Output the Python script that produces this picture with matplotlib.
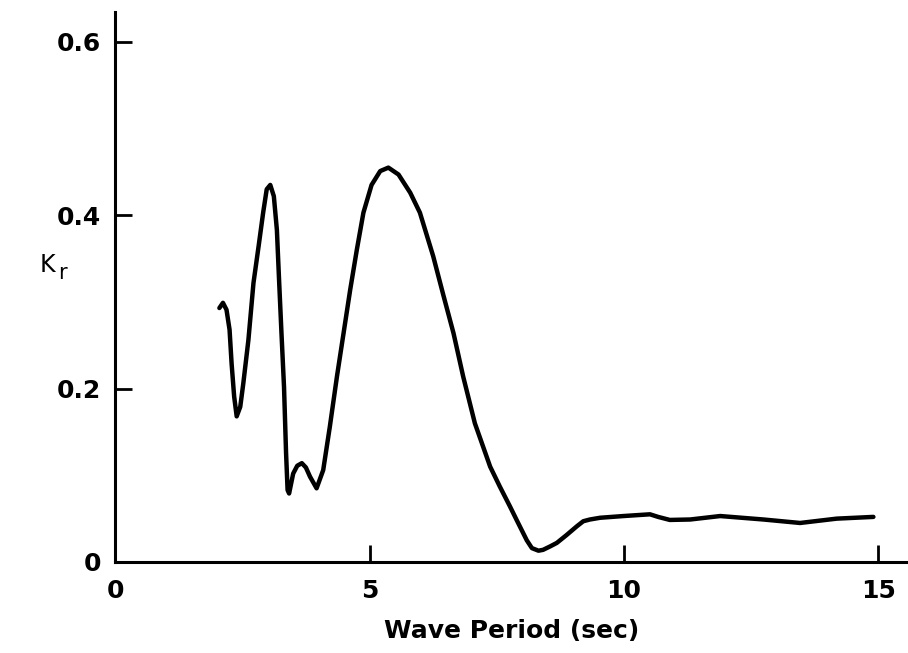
import matplotlib
matplotlib.use("Agg")
import matplotlib.pyplot as plt

# wave period (sec) and reflection coefficient Kr
period = [2.05, 2.12, 2.19, 2.25, 2.29, 2.34, 2.39, 2.46, 2.52, 2.62, 2.72,
          2.82, 2.91, 2.98, 3.05, 3.12, 3.18, 3.22, 3.27, 3.32, 3.36, 3.39,
          3.42, 3.50, 3.58, 3.67, 3.75, 3.83, 3.96, 4.09, 4.22, 4.36, 4.49,
          4.62, 4.75, 4.88, 5.04, 5.21, 5.37, 5.57, 5.80, 5.99, 6.25,
          6.45, 6.65, 6.84, 7.07, 7.37, 7.56, 7.76, 7.89, 8.09, 8.19,
          8.32, 8.41, 8.55, 8.68, 8.87, 9.07, 9.20, 9.33, 9.53, 9.99, 10.51,
          10.67, 10.90, 11.30, 11.89, 12.74, 13.46, 14.18, 14.90]
kr = [0.293, 0.299, 0.291, 0.268, 0.229, 0.191, 0.168, 0.179, 0.206, 0.256,
      0.322, 0.364, 0.403, 0.430, 0.435, 0.422, 0.383, 0.329, 0.264, 0.202,
      0.126, 0.083, 0.079, 0.102, 0.111, 0.114, 0.109, 0.0985, 0.085, 0.106,
      0.156, 0.214, 0.264, 0.314, 0.360, 0.403, 0.435, 0.451, 0.455, 0.447,
      0.426, 0.403, 0.353, 0.308, 0.264, 0.214, 0.160, 0.110,
      0.087, 0.064, 0.0485, 0.025, 0.016, 0.013, 0.014, 0.018, 0.022, 0.031,
      0.041, 0.047, 0.049, 0.051, 0.053, 0.055, 0.052, 0.0485, 0.049, 0.053,
      0.049, 0.045, 0.050, 0.052]

xticks = [0, 5, 10, 15]
yticks = [0, 0.2, 0.4, 0.6]
ytick_labels = ["0", "0.2", "0.4", "0.6"]

plt.rcParams["font.family"] = "DejaVu Sans"
plt.rcParams["font.weight"] = "bold"

fig = plt.figure(figsize=(9.08, 6.53), dpi=100)
ax = fig.add_axes([0.1267, 0.1394, 0.8733, 0.8415])

ax.plot(period, kr, color="black", lw=3.2, solid_capstyle="round",
        solid_joinstyle="round")

ax.set_xlim(0, 15.58)
ax.set_ylim(0, 0.634)

ax.spines["top"].set_visible(False)
ax.spines["right"].set_visible(False)
ax.spines["left"].set_linewidth(2.2)
ax.spines["bottom"].set_linewidth(2.2)

ax.set_xticks(xticks)
ax.set_xticklabels([str(t) for t in xticks])
ax.set_yticks(yticks)
ax.set_yticklabels(ytick_labels)
ax.tick_params(axis="both", direction="in", length=12, width=2,
               labelsize=18, pad=12)
ax.tick_params(axis="y", pad=10)

ax.set_xlabel("Wave Period (sec)", fontsize=18, fontweight="bold", labelpad=12)

# K with subscript r as the y label
fig.text(40 / 908, 1 - 265 / 653, "K", fontsize=17, ha="left", va="center",
         fontweight="normal")
fig.text(58 / 908, 1 - 273 / 653, "r", fontsize=15, ha="left", va="center",
         fontweight="normal")

fig.savefig("out.png", dpi=100)
